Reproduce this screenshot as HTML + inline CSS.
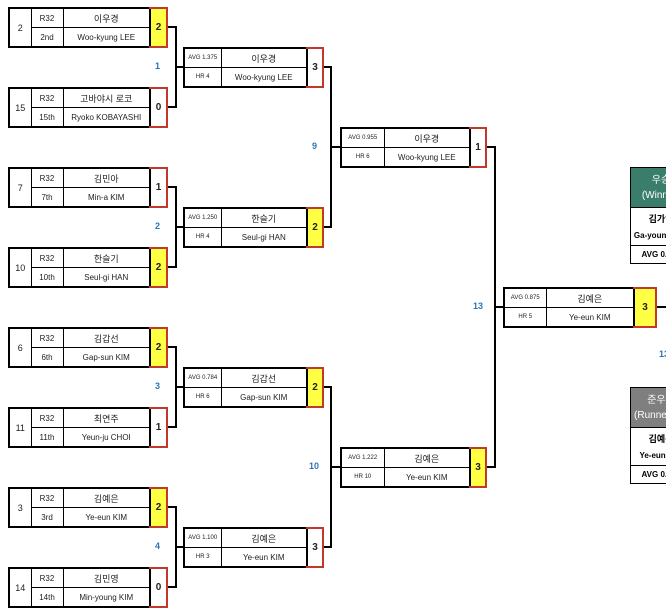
<!DOCTYPE html>
<html><head><meta charset="utf-8"><style>
body{margin:0;width:666px;height:615px;overflow:hidden;background:#fff;position:relative;font-family:"Liberation Sans","Noto Sans CJK KR",sans-serif;}
table{position:absolute;border-collapse:collapse;table-layout:fixed;height:40px;}
td{border:1px solid #000;text-align:center;padding:0;font-size:8px;color:#222;height:18px;overflow:hidden;white-space:nowrap;}
table{border:2px solid #000;}
.sc{border:2px solid #c0392b;border-left:2px solid #000;font-weight:bold;font-size:10px;background:#fff;}
.w{background:#ffff44;}
.k{font-size:9px;}
.a{font-size:6px;}
.seed{font-size:9px;}
.lb{position:absolute;color:#2e75b6;font-weight:bold;font-size:9px;}
svg{position:absolute;left:0;top:0;}
.fin{position:absolute;left:630px;width:60px;border:1px solid #000;font-size:8px;text-align:center;font-weight:bold;}
.fin div{border-bottom:1px solid #000;}
</style></head><body>
<svg width="666" height="615" stroke="#000" stroke-width="2" fill="none">
<path d="M166 27H176V107H166M176 67H183"/>
<path d="M166 187H176V267H166M176 227H183"/>
<path d="M166 347H176V427H166M176 387H183"/>
<path d="M166 507H176V587H166M176 547H183"/>
<path d="M322 67H331V227H322M331 147H340"/>
<path d="M322 387H331V547H322M331 467H340"/>
<path d="M485 147H495V467H485M495 307H503"/>
<path d="M655 307H666"/>
</svg>

<table style="left:8px;top:7px;width:158px"><colgroup><col style="width:22px"><col style="width:32px"><col style="width:87px"><col style="width:17px"></colgroup><tr><td rowspan=2 class=seed>2</td><td>R32</td><td class=k>이우경</td><td rowspan=2 class="sc w">2</td></tr><tr><td>2nd</td><td>Woo-kyung LEE</td></tr></table>
<table style="left:8px;top:87px;width:158px"><colgroup><col style="width:22px"><col style="width:32px"><col style="width:87px"><col style="width:17px"></colgroup><tr><td rowspan=2 class=seed>15</td><td>R32</td><td class=k>고바야시 로코</td><td rowspan=2 class="sc">0</td></tr><tr><td>15th</td><td>Ryoko KOBAYASHI</td></tr></table>
<table style="left:8px;top:167px;width:158px"><colgroup><col style="width:22px"><col style="width:32px"><col style="width:87px"><col style="width:17px"></colgroup><tr><td rowspan=2 class=seed>7</td><td>R32</td><td class=k>김민아</td><td rowspan=2 class="sc">1</td></tr><tr><td>7th</td><td>Min-a KIM</td></tr></table>
<table style="left:8px;top:247px;width:158px"><colgroup><col style="width:22px"><col style="width:32px"><col style="width:87px"><col style="width:17px"></colgroup><tr><td rowspan=2 class=seed>10</td><td>R32</td><td class=k>한슬기</td><td rowspan=2 class="sc w">2</td></tr><tr><td>10th</td><td>Seul-gi HAN</td></tr></table>
<table style="left:8px;top:327px;width:158px"><colgroup><col style="width:22px"><col style="width:32px"><col style="width:87px"><col style="width:17px"></colgroup><tr><td rowspan=2 class=seed>6</td><td>R32</td><td class=k>김갑선</td><td rowspan=2 class="sc w">2</td></tr><tr><td>6th</td><td>Gap-sun KIM</td></tr></table>
<table style="left:8px;top:407px;width:158px"><colgroup><col style="width:22px"><col style="width:32px"><col style="width:87px"><col style="width:17px"></colgroup><tr><td rowspan=2 class=seed>11</td><td>R32</td><td class=k>최연주</td><td rowspan=2 class="sc">1</td></tr><tr><td>11th</td><td>Yeun-ju CHOI</td></tr></table>
<table style="left:8px;top:487px;width:158px"><colgroup><col style="width:22px"><col style="width:32px"><col style="width:87px"><col style="width:17px"></colgroup><tr><td rowspan=2 class=seed>3</td><td>R32</td><td class=k>김예은</td><td rowspan=2 class="sc w">2</td></tr><tr><td>3rd</td><td>Ye-eun KIM</td></tr></table>
<table style="left:8px;top:567px;width:158px"><colgroup><col style="width:22px"><col style="width:32px"><col style="width:87px"><col style="width:17px"></colgroup><tr><td rowspan=2 class=seed>14</td><td>R32</td><td class=k>김민영</td><td rowspan=2 class="sc">0</td></tr><tr><td>14th</td><td>Min-young KIM</td></tr></table>

<table style="left:183px;top:47px;width:139px"><colgroup><col style="width:37px"><col style="width:86px"><col style="width:16px"></colgroup><tr><td class=a>AVG 1.375</td><td class=k>이우경</td><td rowspan=2 class="sc">3</td></tr><tr><td class=a>HR 4</td><td>Woo-kyung LEE</td></tr></table>
<table style="left:183px;top:207px;width:139px"><colgroup><col style="width:37px"><col style="width:86px"><col style="width:16px"></colgroup><tr><td class=a>AVG 1.250</td><td class=k>한슬기</td><td rowspan=2 class="sc w">2</td></tr><tr><td class=a>HR 4</td><td>Seul-gi HAN</td></tr></table>
<table style="left:183px;top:367px;width:139px"><colgroup><col style="width:37px"><col style="width:86px"><col style="width:16px"></colgroup><tr><td class=a>AVG 0.784</td><td class=k>김갑선</td><td rowspan=2 class="sc w">2</td></tr><tr><td class=a>HR 6</td><td>Gap-sun KIM</td></tr></table>
<table style="left:183px;top:527px;width:139px"><colgroup><col style="width:37px"><col style="width:86px"><col style="width:16px"></colgroup><tr><td class=a>AVG 1.100</td><td class=k>김예은</td><td rowspan=2 class="sc">3</td></tr><tr><td class=a>HR 3</td><td>Ye-eun KIM</td></tr></table>

<table style="left:340px;top:127px;width:145px"><colgroup><col style="width:43px"><col style="width:86px"><col style="width:16px"></colgroup><tr><td class=a>AVG 0.955</td><td class=k>이우경</td><td rowspan=2 class="sc">1</td></tr><tr><td class=a>HR 6</td><td>Woo-kyung LEE</td></tr></table>
<table style="left:340px;top:447px;width:145px"><colgroup><col style="width:43px"><col style="width:86px"><col style="width:16px"></colgroup><tr><td class=a>AVG 1.222</td><td class=k>김예은</td><td rowspan=2 class="sc w">3</td></tr><tr><td class=a>HR 10</td><td>Ye-eun KIM</td></tr></table>

<table style="left:503px;top:287px;width:152px"><colgroup><col style="width:42px"><col style="width:88px"><col style="width:22px"></colgroup><tr><td class=a>AVG 0.875</td><td class=k>김예은</td><td rowspan=2 class="sc w">3</td></tr><tr><td class=a>HR 5</td><td>Ye-eun KIM</td></tr></table>

<div class="fin" style="top:167px;">
<div style="background:#3a7d6a;color:#fff;height:40px;font-size:10px;line-height:15px;padding-top:5px;box-sizing:border-box;font-weight:normal">우승<br>(Winner)</div>
<div style="height:22px;line-height:22px;font-size:9px;border:0">김가영</div>
<div style="height:15px;line-height:12px;font-size:8px">Ga-young KIM</div>
<div style="height:17px;line-height:17px;border:0">AVG 0.812</div>
</div>
<div class="fin" style="top:387px;">
<div style="background:#7f7f7f;color:#fff;height:40px;font-size:10px;line-height:15px;padding-top:5px;box-sizing:border-box;font-weight:normal">준우승<br>(Runner-up)</div>
<div style="height:22px;line-height:22px;font-size:9px;border:0">김예은</div>
<div style="height:15px;line-height:12px;font-size:8px">Ye-eun KIM</div>
<div style="height:17px;line-height:17px;border:0">AVG 0.885</div>
</div>

<div class="lb" style="left:155px;top:61px">1</div>
<div class="lb" style="left:155px;top:221px">2</div>
<div class="lb" style="left:155px;top:381px">3</div>
<div class="lb" style="left:155px;top:541px">4</div>
<div class="lb" style="left:312px;top:141px">9</div>
<div class="lb" style="left:309px;top:461px">10</div>
<div class="lb" style="left:473px;top:301px">13</div>
<div class="lb" style="left:659px;top:349px">13</div>
</body></html>
